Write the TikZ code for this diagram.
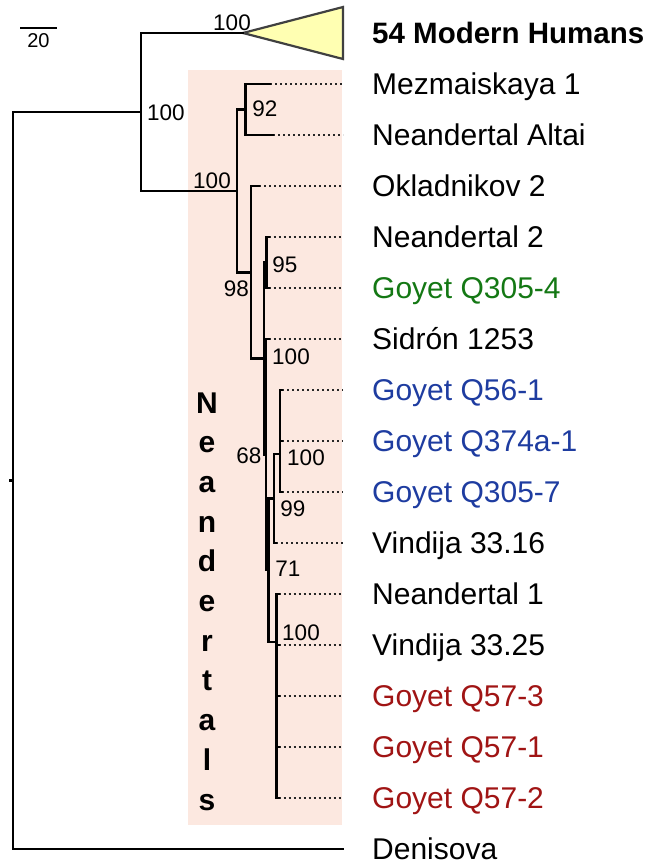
\documentclass[tikz,border=0pt]{standalone}
\usepackage{fontspec}
\setmainfont{Liberation Sans}
\usepackage{tikz}
\usetikzlibrary{positioning}
\definecolor{NeanderPink}{RGB}{252,232,224}
\definecolor{CladeYellow}{RGB}{255,255,178}
\definecolor{GoyetGreen}{RGB}{20,120,20}
\definecolor{GoyetBlue}{RGB}{30,60,160}
\definecolor{GoyetRed}{RGB}{160,20,20}

\begin{document}
\begin{tikzpicture}[
		x=1pt, y=-1pt,
		branch/.style={line width=2.6pt, line cap=rect, line join=miter, black},
		leader/.style={line width=1.2pt, dash pattern=on 2.2pt off 2.8pt, black!85, shorten >=29pt},
		tipLabel/.style={anchor=west, inner sep=0pt, text height=21.5pt, text depth=0pt, font=\fontsize{30}{34}\selectfont},
		support/.style={inner sep=0pt, text height=16pt, text depth=0pt, font=\fontsize{22.5}{25}\selectfont},
		nLetter/.style={inner sep=0pt, anchor=base, font=\fontsize{30}{34}\selectfont\bfseries},
		scaleText/.style={inner sep=0pt, text height=14.5pt, text depth=0pt, font=\fontsize{20}{22}\selectfont}
		]
		\useasboundingbox (0,0) rectangle (650,865);
		
		% Neanderthal box
		\fill[NeanderPink] (188,70) rectangle (342,825);
		\foreach \ch [count=\i] in {N,e,a,n,d,e,r,t,a,l,s}
			\node[nLetter] (nl\i) at (207,{413+39.7*(\i-1)}) {\ch};
		
		% scale bar
		\coordinate (sbL) at (20,28);
		\coordinate (sbR) at (57,28);
		\coordinate (sbMid) at (38.5,28);
		\draw[line width=1.8pt] (sbL) -- (sbR);
		\node[scaleText, below=5pt of sbMid] (sbTxt) {20};
		
		% tips
		\foreach \nm/\xe/\k/\txt/\col in {
			mez/270/0/Mezmaiskaya 1/black,
			alt/273/1/Neandertal Altai/black,
			okl/259/2/Okladnikov 2/black,
			neaB/268.5/3/Neandertal 2/black,
			qGa/268.5/4/Goyet Q305-4/GoyetGreen,
			sid/268.5/5/Sidrón 1253/black,
			qBa/282/6/Goyet Q56-1/GoyetBlue,
			qBb/282/7/Goyet Q374a-1/GoyetBlue,
			qBc/282/8/Goyet Q305-7/GoyetBlue,
			vinA/276/9/Vindija 33.16/black,
			neaA/278.5/10/Neandertal 1/black,
			vinB/278.5/11/Vindija 33.25/black,
			qRa/278.5/12/Goyet Q57-3/GoyetRed,
			qRb/278.5/13/Goyet Q57-1/GoyetRed,
			qRc/278.5/14/Goyet Q57-2/GoyetRed}{
			\coordinate (\nm) at (\xe,{84+51*\k});
			\node[tipLabel, text=\col] (\nm L) at (372,{84+51*\k}) {\txt};
			\draw[leader] (\nm) -- (\nm L.west);
		}
		\coordinate (den) at (343,849);
		\node[tipLabel] (denL) at (372,849) {Denisova};
		
		% collapsed modern humans
		\coordinate (mhApex) at (243,33);
		\coordinate (mhTop) at (343,7);
		\coordinate (mhBot) at (343,59);
		\draw[fill=CladeYellow, draw=black!75, line width=2.2pt, line join=miter] (mhApex) -- (mhTop) -- (mhBot) -- cycle;
		\node[tipLabel, font=\fontsize{29.5}{34}\selectfont\bfseries] (mhL) at (372,33) {54 Modern Humans};
		
		% internal nodes
		\coordinate (rootStub) at (10,480.5);
		\coordinate (root) at (13,480.5);
		\coordinate (nA) at (141,112);
		\coordinate (nB) at (237,191);
		\coordinate (nMA) at (245.5,109.5);
		\coordinate (nC) at (251,272.5);
		\coordinate (nD) at (264,358.5);
		\coordinate (nE) at (266.5,262.5);
		\coordinate (nJ) at (266,454.5);
		\coordinate (nH) at (268.5,570);
		\coordinate (nF) at (274,498.5);
		\coordinate (nGo) at (280,454);
		\coordinate (nG) at (276.5,642);
		
		\draw[branch] (rootStub) -- (root);
		\draw[branch] (root) |- (nA);
		\draw[branch] (root) |- (den);
		\draw[branch] (nA) |- (mhApex);
		\draw[branch] (nA) |- (nB);
		\draw[branch] (nB) |- (nMA);
		\draw[branch] (nB) |- (nC);
		\draw[branch] (nMA) |- (mez);
		\draw[branch] (nMA) |- (alt);
		\draw[branch] (nC) |- (okl);
		\draw[branch] (nC) |- (nD);
		\draw[branch] (nD) |- (nE);
		\draw[branch] (nD) |- (nJ);
		\draw[branch] (nE) |- (neaB);
		\draw[branch] (nE) |- (qGa);
		\draw[branch] (nJ) |- (sid);
		\draw[branch] (nJ) |- (nH);
		\draw[branch] (nH) |- (nF);
		\draw[branch] (nH) |- (nG);
		\draw[branch] (nF) |- (nGo);
		\draw[branch] (nF) |- (vinA);
		\foreach \t in {qBa,qBb,qBc}
			\draw[branch] (nGo) |- (\t);
		\foreach \t in {neaA,vinB,qRa,qRb,qRc}
			\draw[branch] (nG) |- (\t);
		
		% support values
		\node[support] (bsMH) at (232,22) {100};
		\node[support, anchor=west] (bsA) at (147,112) {100};
		\node[support] (bsB) at (212,180) {100};
		\node[support] (bsMA) at (265,108) {92};
		\node[support] (bsE) at (285,264) {95};
		\node[support] (bsC) at (236.5,288) {98};
		\node[support] (bsD) at (291,356) {100};
		\node[support] (bsJ) at (249,455) {68};
		\node[support] (bsGo) at (306,457) {100};
		\node[support] (bsF) at (293,508) {99};
		\node[support] (bsH) at (288,568) {71};
		\node[support] (bsG) at (301,632) {100};
	\end{tikzpicture}
\end{document}
